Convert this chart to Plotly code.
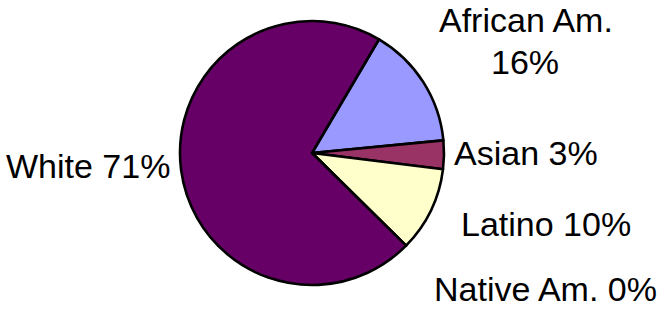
import plotly.graph_objects as go

# Data
groups = ["African Am.", "Asian", "Latino", "Native Am.", "White"]
shares = [15.0, 3.5, 10.4, 0.0, 71.1]
pct_labels = ["16%", "3%", "10%", "0%", "71%"]  # printed labels
colors = ["#9999FF", "#993366", "#FFFFCC", "#FFFFFF", "#660066"]

W, H = 659, 312
cx, cy, r = 312, 153, 132

fig = go.Figure(go.Pie(
    labels=groups,
    values=shares,
    sort=False,
    direction="clockwise",
    rotation=30.5,
    marker=dict(colors=colors, line=dict(color="#000000", width=2.6)),
    textinfo="none",
    hoverinfo="label+percent",
    showlegend=False,
    domain=dict(x=[(cx - r) / W, (cx + r) / W],
                y=[(H - cy - r) / H, (H - cy + r) / H]),
))

FONT = dict(family="Liberation Sans, Arial, sans-serif", size=34, color="#000000")


def add_label(text, x, y):
    fig.add_annotation(
        x=x / W, y=(H - y) / H, xref="paper", yref="paper",
        text=text, showarrow=False, xanchor="center", yanchor="middle",
        font=FONT, align="center", borderpad=0,
    )


# label placement (pixel centres); African Am. label wraps onto two lines
label_pos = {
    "African Am.": [(526, 19.5), (525, 62)],
    "Asian": [(526, 153)],
    "Latino": [(546, 224)],
    "Native Am.": [(545, 289)],
    "White": [(88, 166)],
}
for g, p in zip(groups, pct_labels):
    spots = label_pos[g]
    if len(spots) == 2:
        add_label(g, *spots[0])
        add_label(p, *spots[1])
    else:
        add_label(f"{g} {p}", *spots[0])

fig.update_layout(
    width=W, height=H,
    margin=dict(l=0, r=0, t=0, b=0),
    paper_bgcolor="#FFFFFF",
    plot_bgcolor="#FFFFFF",
)

fig.write_html("out.html", config={"displayModeBar": False},
               post_script="document.body.style.margin='0px';")
